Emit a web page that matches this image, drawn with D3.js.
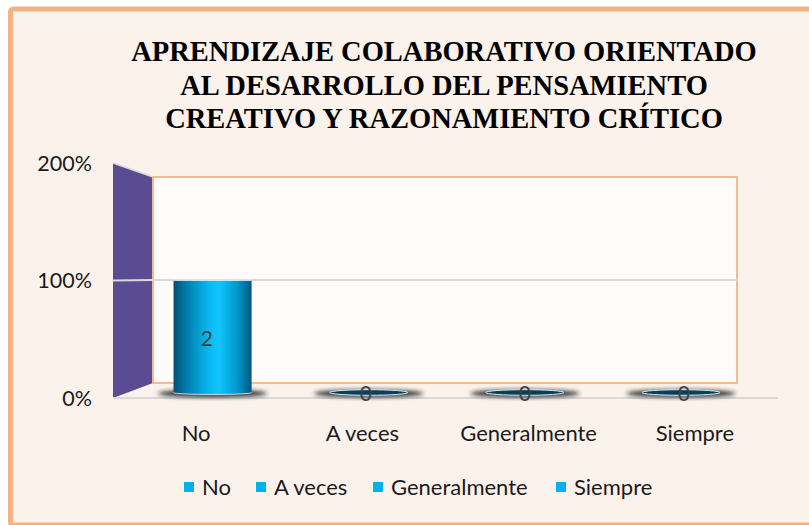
<!DOCTYPE html>
<html>
<head>
<meta charset="utf-8">
<script src="https://cdn.jsdelivr.net/npm/d3@7"></script>
<style>
  html, body { margin: 0; padding: 0; background: #fff; }
  svg { display: block; }
</style>
</head>
<body>
<div id="chart"></div>
<script>
// data
const titleLines = [
    "APRENDIZAJE COLABORATIVO ORIENTADO",
    "AL DESARROLLO DEL PENSAMIENTO",
    "CREATIVO Y RAZONAMIENTO CRÍTICO"
];
const categories = ["No", "A veces", "Generalmente", "Siempre"];
const counts = [2, 0, 0, 0];
const shares = [1, 0, 0, 0];          // 2 of 2 -> 100%
const yTicks = [0, 1, 2];
const yTickLabels = ["0%", "100%", "200%"];

const width = 809, height = 525;
const font = "Lato, 'Open Sans', sans-serif";

const svg = d3.select("#chart")
    .append("svg")
    .attr("width", width)
    .attr("height", height);

const defs = svg.append("defs");

// cylinder shading
const grad = defs.append("linearGradient")
    .attr("id", "cyl")
    .attr("x1", "0%").attr("x2", "100%").attr("y1", "0%").attr("y2", "0%");
[["0%", "#005070"], ["18%", "#0080B0"], ["45%", "#08B8F0"], ["58%", "#12C6FF"],
 ["82%", "#0096CC"], ["100%", "#00587E"]].forEach(s => {
    grad.append("stop").attr("offset", s[0]).attr("stop-color", s[1]);
});

defs.append("filter").attr("id", "blur")
    .attr("x", "-50%").attr("y", "-300%").attr("width", "200%").attr("height", "700%")
    .append("feGaussianBlur").attr("stdDeviation", 2.2);

// chart area frame
svg.append("rect")
    .attr("x", 10.5).attr("y", 9)
    .attr("width", 812).attr("height", 516)
    .attr("rx", 3)
    .attr("fill", "#FCF2EC")
    .attr("stroke", "#F4B183")
    .attr("stroke-width", 5);

// title
svg.append("text")
    .attr("x", 444)
    .attr("y", 61)
    .attr("text-anchor", "middle")
    .style("font-family", "'Liberation Serif', 'Times New Roman', serif")
    .style("font-weight", "bold")
    .style("font-size", "28.5px")
    .attr("fill", "#000")
    .selectAll("tspan")
    .data(titleLines)
    .join("tspan")
    .attr("x", 444)
    .attr("dy", (d, i) => i === 0 ? 0 : 33.5)
    .text(d => d);

// 3D box: front plane and back plane
const front = { x: [113, 778], y: [398, 163] };
const back = { x: [153, 737], y: [383, 177] };
const lerp = (a, b, t) => a + (b - a) * t;

function xAt(t) {
    return d3.scaleBand()
        .domain(categories)
        .range([lerp(front.x[0], back.x[0], t), lerp(front.x[1], back.x[1], t)]);
}
function yAt(t) {
    return d3.scaleLinear()
        .domain([0, 2])
        .range([lerp(front.y[0], back.y[0], t), lerp(front.y[1], back.y[1], t)]);
}

const yF = yAt(0), yB = yAt(1);
const xF = xAt(0), xB = xAt(1);

// side wall
svg.append("path")
    .attr("d", d3.line()([
        [xF.range()[0], yF(0)], [xF.range()[0], yF(2)],
        [xB.range()[0], yB(2)], [xB.range()[0], yB(0)]
    ]) + "Z")
    .attr("fill", "#5B4B93");
svg.append("line")
    .attr("x1", xF.range()[0]).attr("y1", yF(2))
    .attr("x2", xB.range()[0]).attr("y2", yB(2))
    .attr("stroke", "#D9D9D9").attr("stroke-width", 1.5);

// back wall
svg.append("rect")
    .attr("x", xB.range()[0])
    .attr("y", yB(2))
    .attr("width", xB.range()[1] - xB.range()[0])
    .attr("height", yB(0) - yB(2))
    .attr("fill", "#FEFBFA")
    .attr("stroke", "#F8B98F")
    .attr("stroke-width", 2);

// gridline at 100%
yTicks.filter(v => v > 0 && v < 2).forEach(v => {
    svg.append("path")
        .attr("d", d3.line()([
            [xF.range()[0], yF(v)], [xB.range()[0], yB(v)], [xB.range()[1], yB(v)]
        ]))
        .attr("fill", "none")
        .attr("stroke", "#D9D9D9")
        .attr("stroke-width", 2);
});

// floor front edge
svg.append("line")
    .attr("x1", xF.range()[0]).attr("y1", yF(0))
    .attr("x2", xF.range()[1]).attr("y2", yF(0))
    .attr("stroke", "#D9D9D9")
    .attr("stroke-width", 2);

// y axis labels
svg.append("g")
    .selectAll("text")
    .data(yTicks)
    .join("text")
    .attr("x", 92)
    .attr("y", d => yF(d))
    .attr("dy", "0.36em")
    .attr("text-anchor", "end")
    .style("font-family", font)
    .style("font-size", "21.5px")
    .attr("fill", "#1a1a1a")
    .text((d, i) => yTickLabels[i]);

// category labels
svg.append("g")
    .selectAll("text")
    .data(categories)
    .join("text")
    .attr("x", d => xF(d) + xF.bandwidth() / 2)
    .attr("y", 441)
    .attr("text-anchor", "middle")
    .style("font-family", font)
    .style("font-size", "22px")
    .attr("fill", "#1a1a1a")
    .text(d => d);

// bars (cylinders) at middle depth
const xM = xAt(0.5).paddingInner(0.5).paddingOuter(0.25);
const yM = yAt(0.5);
const bars = svg.append("g");

categories.forEach((c, i) => {
    const x0 = xM(c) + 1.5, w = xM.bandwidth(), cx = x0 + w / 2;
    const yTop = yM(shares[i]), yBase = yM(0) + 2;
    // shadow
    bars.append("ellipse")
        .attr("cx", cx).attr("cy", yBase + 1)
        .attr("rx", w * 0.7).attr("ry", 3.8)
        .attr("fill", "#1a1a1a")
        .attr("opacity", 0.9)
        .attr("filter", "url(#blur)");
    if (shares[i] > 0) {
        bars.append("ellipse")
            .attr("cx", cx).attr("cy", yBase)
            .attr("rx", w / 2).attr("ry", 2)
            .attr("fill", "url(#cyl)")
            .attr("stroke", "#e8f6fc").attr("stroke-width", 0.8);
        bars.append("rect")
            .attr("x", x0).attr("y", yTop)
            .attr("width", w).attr("height", yBase - yTop)
            .attr("fill", "url(#cyl)");
        bars.append("line")
            .attr("x1", x0).attr("x2", x0 + w)
            .attr("y1", yTop).attr("y2", yTop)
            .attr("stroke", "#f4fbff").attr("stroke-width", 1);
    } else {
        bars.append("ellipse")
            .attr("cx", cx).attr("cy", yBase)
            .attr("rx", w / 2).attr("ry", 2.8)
            .attr("fill", "#0B3F57")
            .attr("stroke", "#d6eef7").attr("stroke-width", 1);
    }
});

// data labels
const xL = xAt(0.36);
svg.append("g")
    .selectAll("text")
    .data(counts)
    .join("text")
    .attr("x", (d, i) => xL(categories[i]) + xL.bandwidth() / 2)
    .attr("y", (d, i) => (yM(shares[i]) + yM(0)) / 2 + 3)
    .attr("dy", "0.36em")
    .attr("text-anchor", "middle")
    .style("font-family", font)
    .style("font-size", "21px")
    .attr("fill", "#404040")
    .text(d => d);

// legend
const legendX = [184, 256, 373, 556];
const legend = svg.append("g");
categories.forEach((c, i) => {
    legend.append("rect")
        .attr("x", legendX[i]).attr("y", 482)
        .attr("width", 10).attr("height", 10)
        .attr("fill", "#00B0F0");
    legend.append("text")
        .attr("x", legendX[i] + 18)
        .attr("y", 495)
        .style("font-family", font)
        .style("font-size", "22px")
        .attr("fill", "#1a1a1a")
        .text(c);
});
</script>
</body>
</html>
